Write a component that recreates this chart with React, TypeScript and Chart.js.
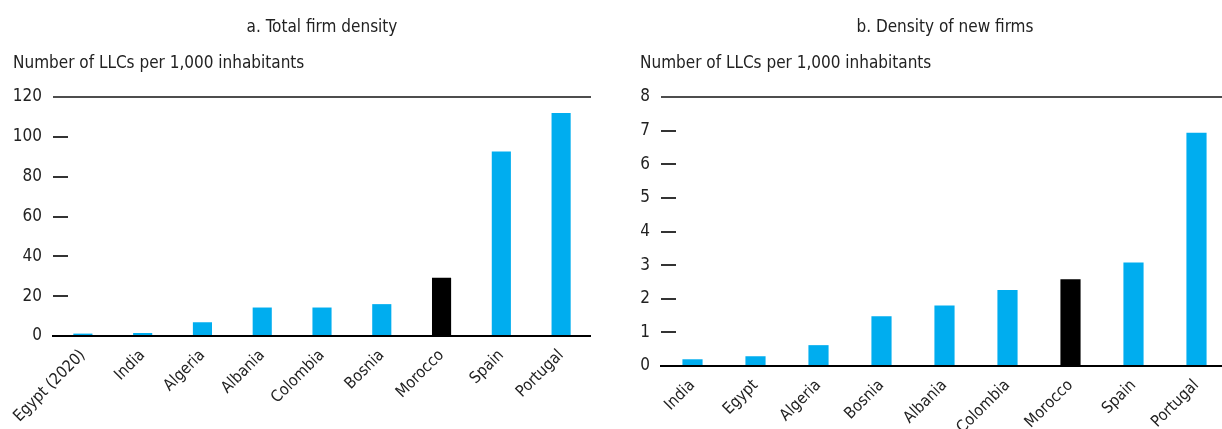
import { useEffect, useRef } from "react";
import { Chart, registerables } from "chart.js";

Chart.register(...registerables);

const FONT = '"DejaVu Sans Condensed", "DejaVu Sans", sans-serif';
const TEXT = "#222";
const BLUE = "#00ADEF";
const HIGHLIGHT = "#000000";
const highlightCountry = "Morocco";

// Panel a: total firm density
const totalTitle = "a. Total firm density";
const totalCountries = ["Egypt (2020)", "India", "Algeria", "Albania", "Colombia", "Bosnia", "Morocco", "Spain", "Portugal"];
const totalDensity = [1.2, 1.5, 6.9, 14.3, 14.3, 16, 29.3, 92.6, 112];
const totalTicks = [0, 20, 40, 60, 80, 100, 120];

// Panel b: density of new firms
const newTitle = "b. Density of new firms";
const newCountries = ["India", "Egypt", "Algeria", "Bosnia", "Albania", "Colombia", "Morocco", "Spain", "Portugal"];
const newDensity = [0.2, 0.29, 0.62, 1.48, 1.8, 2.26, 2.58, 3.08, 6.94];
const newTicks = [0, 1, 2, 3, 4, 5, 6, 7, 8];

const unitLabel = "Number of LLCs per 1,000 inhabitants";

// short tick marks drawn just inside the plot's left edge
const tickMarks = {
  id: "tickMarks",
  afterDatasetsDraw(chart: Chart) {
    const y = chart.scales.y;
    const { ctx, chartArea } = chart;
    ctx.save();
    ctx.strokeStyle = "#333";
    ctx.lineWidth = 2;
    y.ticks.forEach((t) => {
      if (t.value === y.min || t.value === y.max) return;
      const py = Math.round(y.getPixelForValue(t.value));
      ctx.beginPath();
      ctx.moveTo(chartArea.left, py);
      ctx.lineTo(chartArea.left + 15, py);
      ctx.stroke();
    });
    ctx.restore();
  },
};

type PanelProps = {
  labels: string[];
  values: number[];
  ticks: number[];
  width: number;
  yWidth: number;
  xHeight: number;
  top: number;
};

function Panel({ labels, values, ticks, width, yWidth, xHeight, top }: PanelProps) {
  const ref = useRef<HTMLCanvasElement>(null);
  useEffect(() => {
    const max = ticks[ticks.length - 1];
    const chart = new Chart(ref.current!, {
      type: "bar",
      data: {
        labels,
        datasets: [
          {
            data: values,
            backgroundColor: labels.map((l) => (l.startsWith(highlightCountry) ? HIGHLIGHT : BLUE)),
            barPercentage: 0.32,
            categoryPercentage: 1,
          },
        ],
      },
      options: {
        animation: false,
        responsive: false,
        devicePixelRatio: 1,
        layout: { padding: { top, left: 0, right: 0, bottom: 0 } },
        plugins: { legend: { display: false }, tooltip: { enabled: false } },
        scales: {
          x: {
            grid: { display: false },
            border: { color: "#000", width: 2 },
            ticks: {
              minRotation: 45,
              maxRotation: 45,
              autoSkip: false,
              padding: 2,
              color: TEXT,
              font: { family: FONT, size: 16 },
            },
            afterFit: (s: any) => {
              s.height = xHeight;
              s.paddingLeft = 0;
              s.paddingRight = 0;
            },
          },
          y: {
            min: 0,
            max,
            afterBuildTicks: (s: any) => {
              s.ticks = ticks.map((v) => ({ value: v }));
            },
            border: { display: false },
            grid: {
              drawTicks: false,
              lineWidth: 2,
              color: (c: any) => (c.tick && c.tick.value === max ? "#4d4d4d" : "transparent"),
            },
            ticks: {
              padding: 11,
              color: TEXT,
              font: { family: FONT, size: 17 },
            },
            afterFit: (s: any) => {
              s.width = yWidth;
            },
          },
        },
      },
      plugins: [tickMarks],
    });
    return () => chart.destroy();
  }, [labels, values, ticks, width, yWidth, xHeight, top]);
  return <canvas ref={ref} width={width} height={429} style={{ display: "block", width, height: 429 }} />;
}

const textStyle = {
  position: "absolute" as const,
  fontFamily: FONT,
  fontSize: 17,
  color: TEXT,
  whiteSpace: "nowrap" as const,
  lineHeight: "20px",
};

export default function App() {
  return (
    <div style={{ position: "fixed", left: 0, top: 0, width: 1222, height: 429, overflow: "hidden", background: "#fff" }}>
      <div style={{ position: "absolute", left: 0, top: 0 }}>
        <Panel labels={totalCountries} values={totalDensity} ticks={totalTicks} width={591} yWidth={53} xHeight={93} top={97} />
      </div>
      <div style={{ position: "absolute", left: 620, top: 0 }}>
        <Panel labels={newCountries} values={newDensity} ticks={newTicks} width={608} yWidth={41} xHeight={63} top={97} />
      </div>
      <div style={{ ...textStyle, left: 322, top: 16, transform: "translateX(-50%)" }}>{totalTitle}</div>
      <div style={{ ...textStyle, left: 13, top: 52 }}>{unitLabel}</div>
      <div style={{ ...textStyle, left: 945, top: 16, transform: "translateX(-50%)" }}>{newTitle}</div>
      <div style={{ ...textStyle, left: 640, top: 52 }}>{unitLabel}</div>
    </div>
  );
}
